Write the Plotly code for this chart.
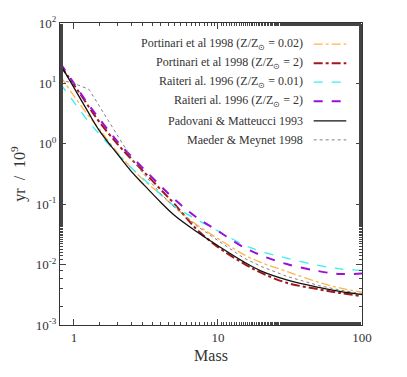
import plotly.graph_objects as go

# stellar lifetimes vs mass (yr / 1e9)
mass = [0.8, 1, 1.25, 1.5, 2, 2.5, 3, 4, 5, 7, 10, 15, 20, 30, 50, 70, 100]

portinari_002 = [13.5, 6.2, 3.0, 1.75, 0.72, 0.40, 0.26, 0.145, 0.09, 0.047, 0.027, 0.0148, 0.0108, 0.0077, 0.0051, 0.0041, 0.0035]
portinari_2 = [20, 9.5, 4.3, 2.3, 1.0, 0.56, 0.36, 0.175, 0.10, 0.040, 0.0195, 0.0105, 0.0073, 0.0050, 0.0039, 0.0034, 0.0030]
raiteri_001 = [10, 4.9, 2.4, 1.45, 0.68, 0.40, 0.27, 0.145, 0.092, 0.057, 0.036, 0.0215, 0.0165, 0.0128, 0.0097, 0.0085, 0.0080]
raiteri_2 = [22, 10, 4.6, 2.6, 1.1, 0.62, 0.40, 0.20, 0.12, 0.062, 0.036, 0.0195, 0.0142, 0.0102, 0.0078, 0.0070, 0.0071]
padovani = [21, 8.5, 3.4, 1.65, 0.68, 0.35, 0.22, 0.108, 0.065, 0.036, 0.0205, 0.0112, 0.0078, 0.0056, 0.0042, 0.0036, 0.0032]

mm_mass = [0.8, 1, 1.27, 1.5, 2, 2.5, 3, 4, 5, 7, 10, 15, 20, 30, 50, 70, 100]
maeder = [11.5, 10, 8.0, 4.2, 1.38, 0.59, 0.33, 0.15, 0.088, 0.045, 0.025, 0.013, 0.0093, 0.0064, 0.0045, 0.0038, 0.0033]

names = [
    "Portinari et al 1998 (Z/Z<sub>⊙</sub> = 0.02)",
    "Portinari et al 1998 (Z/Z<sub>⊙</sub> = 2)",
    "Raiteri al. 1996 (Z/Z<sub>⊙</sub> = 0.01)",
    "Raiteri al. 1996 (Z/Z<sub>⊙</sub> = 2)",
    "Padovani &amp; Matteucci 1993",
    "Maeder &amp; Meynet 1998",
]
colors = ["#ffb347", "#a01818", "#33f0f0", "#9b0fd6", "#111111", "#808080"]
dashes = ["dashdot", "dashdot", "dash", "dash", "solid", "dot"]
widths = [1.3, 2.0, 1.3, 2.0, 1.3, 1.0]

series = [
    (mass, portinari_002),
    (mass, portinari_2),
    (mass, raiteri_001),
    (mass, raiteri_2),
    (mass, padovani),
    (mm_mass, maeder),
]

fig = go.Figure()
for i, (xs, ys) in enumerate(series):
    shape = "linear" if i == 5 else "spline"
    fig.add_trace(go.Scatter(x=xs, y=ys, mode="lines", name=names[i], showlegend=False,
                             line=dict(color=colors[i], dash=dashes[i], width=widths[i], shape=shape)))

# legend drawn by hand: text on the left, line sample on the right
row_y = [0.930, 0.867, 0.804, 0.741, 0.676, 0.613]
for i in range(6):
    fig.add_annotation(x=0.812, y=row_y[i], xref="paper", yref="paper", text=names[i],
                       showarrow=False, xanchor="right", yanchor="middle",
                       font=dict(size=12, color="#333333"))
    fig.add_shape(type="line", xref="paper", yref="paper", x0=0.84, x1=0.948, y0=row_y[i], y1=row_y[i],
                  line=dict(color=colors[i], dash=dashes[i], width=widths[i]))

fig.update_xaxes(type="log", range=[-0.097, 2], tickvals=[1, 10, 100], ticktext=["1", "10", "100"],
                 ticks="inside", ticklen=6, mirror="allticks", showline=True, linecolor="#333", linewidth=1,
                 showgrid=False, zeroline=False, automargin=False,
                 minor=dict(ticks="inside", ticklen=3, showgrid=False),
                 title=dict(text="Mass", standoff=6))
ylabels = ["10<sup>-3</sup>", "10<sup>-2</sup>", "10<sup>-1</sup>", "10<sup>0</sup>", "10<sup>1</sup>", "10<sup>2</sup>"]
fig.update_yaxes(type="log", range=[-3, 2], tickvals=[1e-3, 1e-2, 1e-1, 1, 10, 100], ticktext=ylabels,
                 ticks="inside", ticklen=6, mirror="allticks", showline=True, linecolor="#333", linewidth=1,
                 showgrid=False, zeroline=False, automargin=False,
                 minor=dict(ticks="inside", ticklen=3, showgrid=False),
                 title=dict(text="yr  /  10<sup>9</sup>", standoff=10))

# page adds an 8px body margin, so the figure is sized to fit inside the window
fig.update_layout(width=399, height=369, margin=dict(l=52, r=45, t=15, b=52),
                  plot_bgcolor="white", paper_bgcolor="white",
                  font=dict(family="Liberation Serif", size=13, color="#333333"))
fig.write_html("out.html")
